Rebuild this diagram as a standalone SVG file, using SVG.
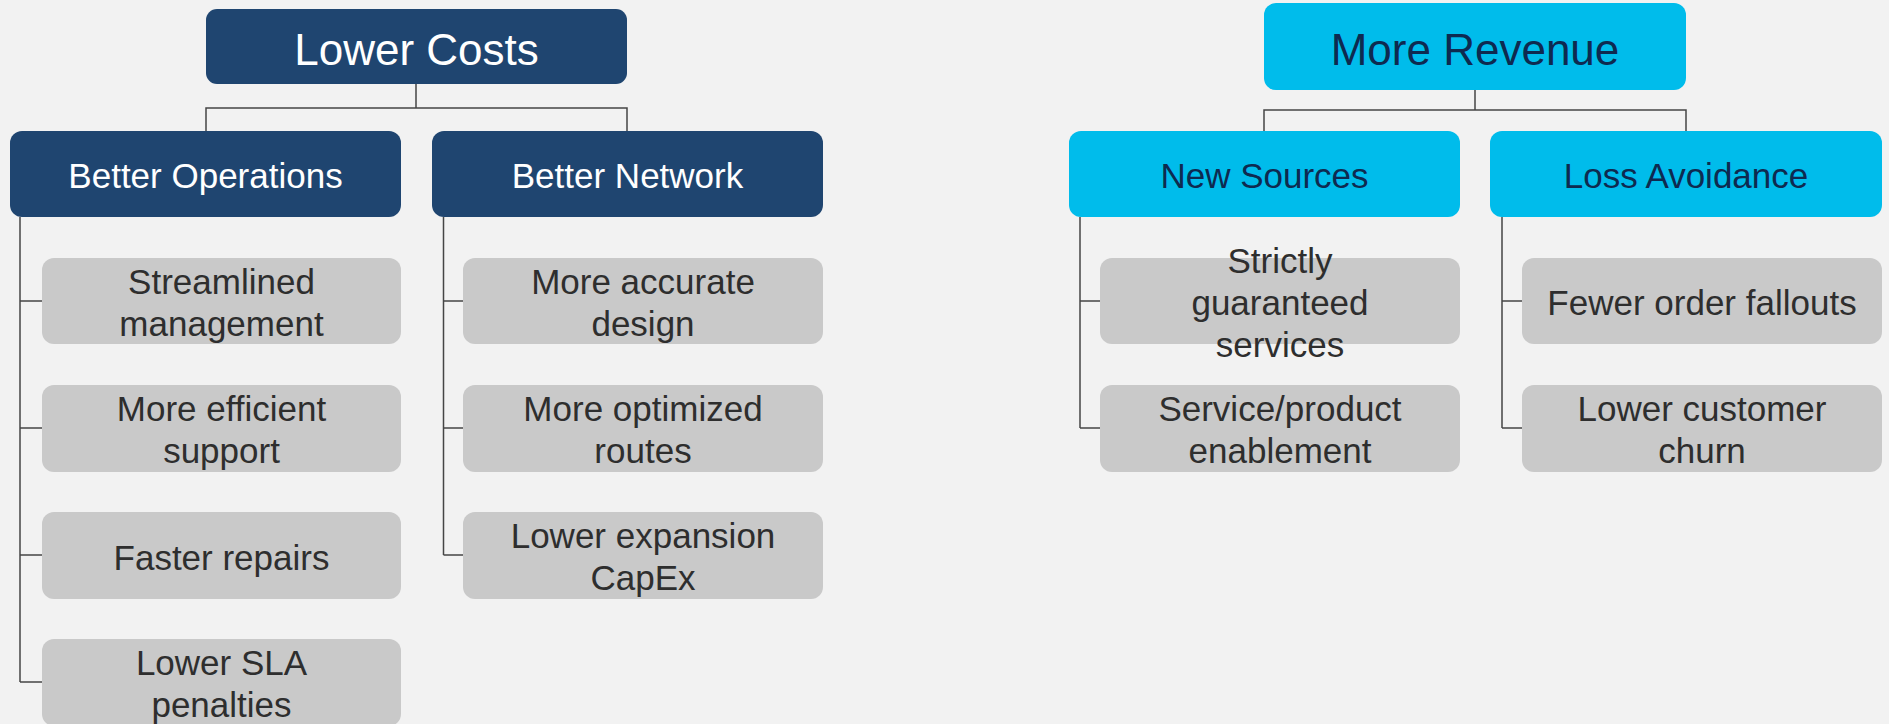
<svg xmlns="http://www.w3.org/2000/svg" width="1889" height="724" viewBox="0 0 1889 724">
  <style>
    .bg { fill: #f2f2f2; }
    .navy { fill: #1f4570; }
    .cyan { fill: #00bceb; }
    .item { fill: #c9c9c9; }
    .conn { fill: none; stroke: #454545; stroke-width: 1.5; }
    text { font-family: "Liberation Sans", Arial, sans-serif; text-anchor: middle; }
    .t-top { font-size: 44px; }
    .t-head { font-size: 35px; }
    .t-item { font-size: 35px; fill: #2e2e2e; }
    .light { fill: #ffffff; }
    .dark { fill: #0e2a50; }
  </style>
  <rect class="bg" x="0" y="0" width="1889" height="724"/>

  <g id="connectors">
    <!-- Lower Costs tree -->
    <path class="conn" d="M416,84 V108 M206,131 V108 H627 V131"/>
    <path class="conn" d="M20,217 V682 M20,301 H42 M20,428 H42 M20,555 H42 M20,682 H42"/>
    <path class="conn" d="M443.5,217 V555 M443.5,301 H463 M443.5,428 H463 M443.5,555 H463"/>
    <!-- More Revenue tree -->
    <path class="conn" d="M1475,90 V110 M1264,131 V110 H1686 V131"/>
    <path class="conn" d="M1080,217 V428 M1080,301 H1100 M1080,428 H1100"/>
    <path class="conn" d="M1502,217 V428 M1502,301 H1522 M1502,428 H1522"/>
  </g>

  <g id="lower-costs">
    <rect class="navy" x="206" y="9" width="421" height="75" rx="11"/>
    <text class="t-top light" x="416.5" y="65">Lower Costs</text>
  </g>
  <g id="better-operations">
    <rect class="navy" x="10" y="131" width="391" height="86" rx="12"/>
    <text class="t-head light" x="205.5" y="188">Better Operations</text>
  </g>
  <g id="better-network">
    <rect class="navy" x="432" y="131" width="391" height="86" rx="12"/>
    <text class="t-head light" x="627.5" y="188">Better Network</text>
  </g>

  <g id="streamlined-management">
    <rect class="item" x="42" y="258" width="359" height="86" rx="12"/>
    <text class="t-item" x="221.5" y="294">Streamlined</text>
    <text class="t-item" x="221.5" y="336">management</text>
  </g>
  <g id="more-efficient-support">
    <rect class="item" x="42" y="385" width="359" height="87" rx="12"/>
    <text class="t-item" x="221.5" y="421">More efficient</text>
    <text class="t-item" x="221.5" y="463">support</text>
  </g>
  <g id="faster-repairs">
    <rect class="item" x="42" y="512" width="359" height="87" rx="12"/>
    <text class="t-item" x="221.5" y="570">Faster repairs</text>
  </g>
  <g id="lower-sla-penalties">
    <rect class="item" x="42" y="639" width="359" height="87" rx="12"/>
    <text class="t-item" x="221.5" y="675">Lower SLA</text>
    <text class="t-item" x="221.5" y="717">penalties</text>
  </g>

  <g id="more-accurate-design">
    <rect class="item" x="463" y="258" width="360" height="86" rx="12"/>
    <text class="t-item" x="643" y="294">More accurate</text>
    <text class="t-item" x="643" y="336">design</text>
  </g>
  <g id="more-optimized-routes">
    <rect class="item" x="463" y="385" width="360" height="87" rx="12"/>
    <text class="t-item" x="643" y="421">More optimized</text>
    <text class="t-item" x="643" y="463">routes</text>
  </g>
  <g id="lower-expansion-capex">
    <rect class="item" x="463" y="512" width="360" height="87" rx="12"/>
    <text class="t-item" x="643" y="548">Lower expansion</text>
    <text class="t-item" x="643" y="590">CapEx</text>
  </g>

  <g id="more-revenue">
    <rect class="cyan" x="1264" y="3" width="422" height="87" rx="12"/>
    <text class="t-top dark" x="1475" y="65">More Revenue</text>
  </g>
  <g id="new-sources">
    <rect class="cyan" x="1069" y="131" width="391" height="86" rx="12"/>
    <text class="t-head dark" x="1264.5" y="188">New Sources</text>
  </g>
  <g id="loss-avoidance">
    <rect class="cyan" x="1490" y="131" width="392" height="86" rx="12"/>
    <text class="t-head dark" x="1686" y="188">Loss Avoidance</text>
  </g>

  <g id="strictly-guaranteed-services">
    <rect class="item" x="1100" y="258" width="360" height="86" rx="12"/>
    <text class="t-item" x="1280" y="273">Strictly</text>
    <text class="t-item" x="1280" y="315">guaranteed</text>
    <text class="t-item" x="1280" y="357">services</text>
  </g>
  <g id="service-product-enablement">
    <rect class="item" x="1100" y="385" width="360" height="87" rx="12"/>
    <text class="t-item" x="1280" y="421">Service/product</text>
    <text class="t-item" x="1280" y="463">enablement</text>
  </g>
  <g id="fewer-order-fallouts">
    <rect class="item" x="1522" y="258" width="360" height="86" rx="12"/>
    <text class="t-item" x="1702" y="315">Fewer order fallouts</text>
  </g>
  <g id="lower-customer-churn">
    <rect class="item" x="1522" y="385" width="360" height="87" rx="12"/>
    <text class="t-item" x="1702" y="421">Lower customer</text>
    <text class="t-item" x="1702" y="463">churn</text>
  </g>
</svg>
